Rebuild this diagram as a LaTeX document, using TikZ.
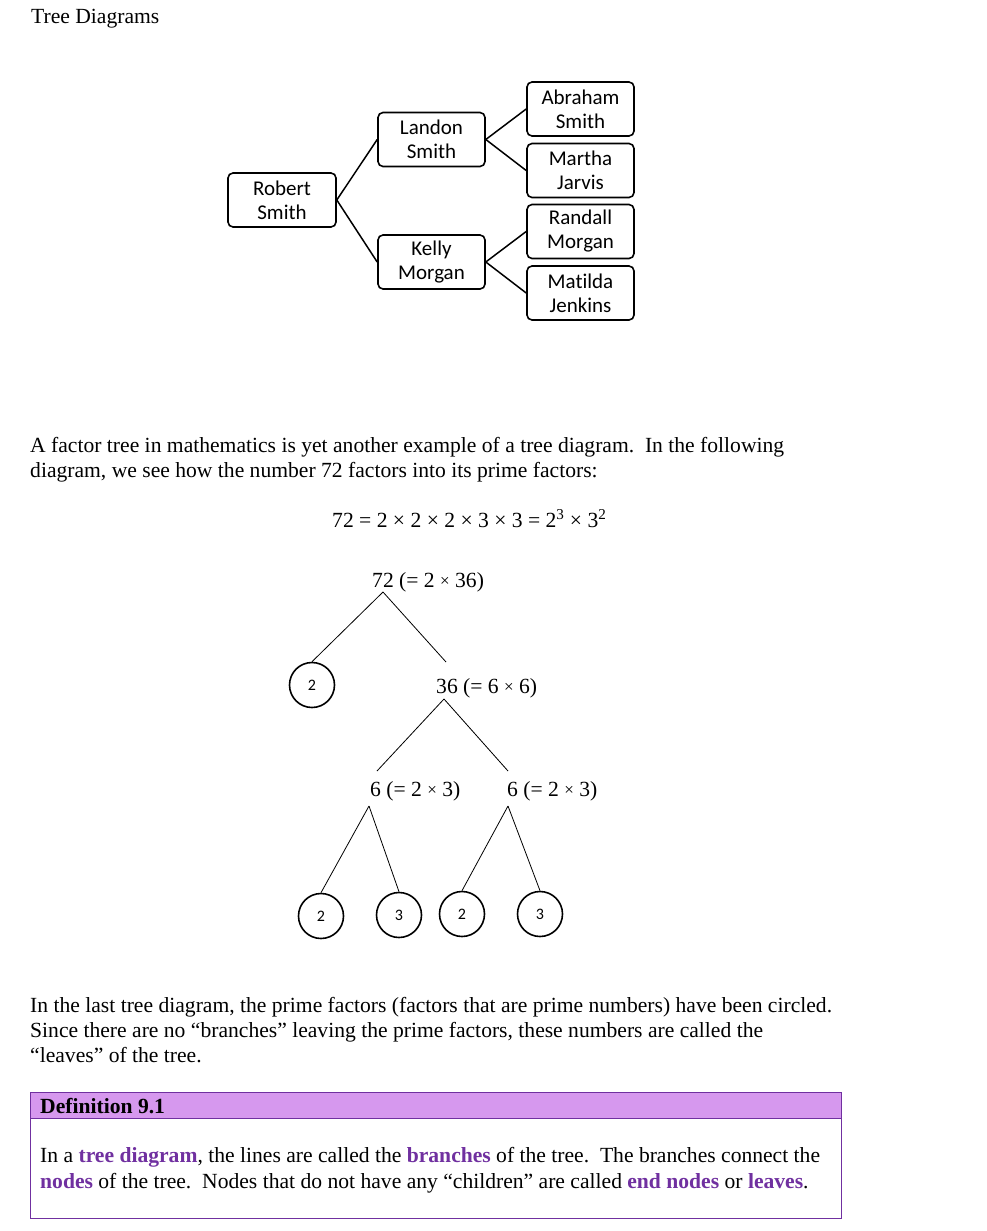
\documentclass[tikz,border=0pt]{standalone}
\usepackage{fontspec}
\setmainfont{Liberation Serif}
\newfontfamily\calib[Ligatures=NoCommon]{Carlito}
\definecolor{defpurple}{RGB}{112,48,160}
\definecolor{defhead}{RGB}{214,152,238}
\newcommand{\smtimes}{\raisebox{0.5pt}{\fontsize{17}{17}\selectfont ×}}
\begin{document}
\begin{tikzpicture}[x=1pt,y=-1pt,
  body/.style={anchor=base west, inner sep=0pt, font=\fontsize{21.6}{25}\selectfont},
  person/.style={draw, rounded corners=5pt, line width=1.6pt, minimum width=107pt, minimum height=54pt, align=center, inner sep=0pt, font=\calib\fontsize{21}{24}\selectfont},
  famline/.style={line width=1.5pt},
  flabel/.style={anchor=base west, inner sep=0pt, font=\fontsize{21.6}{25}\selectfont},
  leaf/.style={draw, circle, line width=1.6pt, minimum size=45pt, inner sep=0pt, font=\calib\fontsize{16}{16}\selectfont},
  fline/.style={line width=0.8pt}
]
\useasboundingbox (0,0) rectangle (986,1231);
\fill[white] (0,0) rectangle (986,1231);

\node[body] (title) at (31,24) {Tree Diagrams};

% family tree
\node[person, minimum width=108pt] (rob) at (282,200) {Robert\\Smith};
\node[person] (lan) at (431.5,139.5) {Landon\\Smith};
\node[person] (kel) at (431.5,262) {Kelly\\Morgan};
\node[person] (abr) at (580.5,109) {Abraham\\Smith};
\node[person] (mar) at (580.5,170.5) {Martha\\Jarvis};
\node[person] (ran) at (580.5,231.5) {Randall\\Morgan};
\node[person] (mat) at (580.5,293) {Matilda\\Jenkins};
\draw[famline] (rob.east) -- (lan.west);
\draw[famline] (rob.east) -- (kel.west);
\draw[famline] (lan.east) -- (abr.west);
\draw[famline] (lan.east) -- (mar.west);
\draw[famline] (kel.east) -- (ran.west);
\draw[famline] (kel.east) -- (mat.west);

% paragraph
\node[body] (p1) at (30,452) {A factor tree in mathematics is yet another example of a tree diagram.\ \ In the following};
\node[body] (p2) at (30,477) {diagram, we see how the number 72 factors into its prime factors:};
\node[body] (eq) at (332,527) {72 = 2 × 2 × 2 × 3 × 3 = 2\textsuperscript{3} × 3\textsuperscript{2}};

% factor tree
\node[flabel] (l72) at (372,587) {72 (= 2 \smtimes{} 36)};
\node[flabel] (l36) at (436,693) {36 (= 6 \smtimes{} 6)};
\node[flabel] (l6a) at (370,796) {6 (= 2 \smtimes{} 3)};
\node[flabel] (l6b) at (507,796) {6 (= 2 \smtimes{} 3)};
\node[leaf] (c1) at (312,685) {2};
\node[leaf] (c2) at (321,916) {2};
\node[leaf] (c3) at (399,915) {3};
\node[leaf] (c4) at (462,914) {2};
\node[leaf] (c5) at (540,914) {3};
\coordinate (a72) at (383,592);
\coordinate (t36) at (446,662);
\coordinate (a36) at (444,699);
\coordinate (t6a) at (377,771);
\coordinate (t6b) at (508,771);
\coordinate (a6a) at (369,806);
\coordinate (a6b) at (508,806);
\draw[fline] (a72) -- (c1.north);
\draw[fline] (a72) -- (t36);
\draw[fline] (a36) -- (t6a);
\draw[fline] (a36) -- (t6b);
\draw[fline] (a6a) -- (c2.north);
\draw[fline] (a6a) -- (c3.north);
\draw[fline] (a6b) -- (c4.north);
\draw[fline] (a6b) -- (c5.north);

% paragraph 2
\node[body] (q1) at (30,1012) {In the last tree diagram, the prime factors (factors that are prime numbers) have been circled.};
\node[body] (q2) at (30,1037) {Since there are no “branches” leaving the prime factors, these numbers are called the};
\node[body] (q3) at (30,1062) {“leaves” of the tree.};

% definition box
\fill[defhead] (30,1092) rectangle (841,1118);
\draw[defpurple, line width=1pt] (30,1092) rectangle (841,1218);
\draw[defpurple, line width=1pt] (30,1118) -- (841,1118);
\node[body, font=\bfseries\fontsize{21.6}{25}\selectfont] (dh) at (40,1113) {Definition 9.1};
\node[body] (d1) at (40,1162) {In a \textbf{\color{defpurple}tree diagram}, the lines are called the \textbf{\color{defpurple}branches} of the tree.\ \ The branches connect the};
\node[body] (d2) at (40,1188) {\textbf{\color{defpurple}nodes} of the tree.\ \ Nodes that do not have any “children” are called \textbf{\color{defpurple}end nodes} or \textbf{\color{defpurple}leaves}.};
\end{tikzpicture}
\end{document}
